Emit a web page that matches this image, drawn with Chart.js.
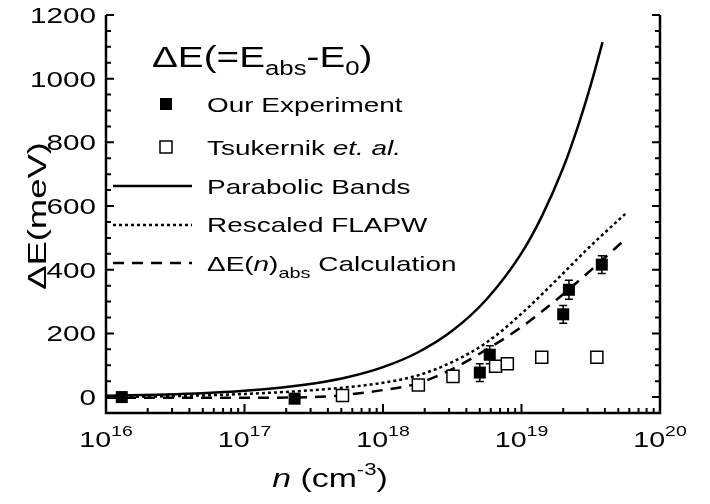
<!DOCTYPE html>
<html>
<head>
<meta charset="utf-8">
<script src="https://cdn.jsdelivr.net/npm/chart.js@4.4.1/dist/chart.umd.min.js"></script>
<style>
  body { margin: 0; background: #fff; }
  canvas { display: block; }
</style>
</head>
<body>
<canvas id="grafico" width="710" height="504"></canvas>
<script>
// datos
var expN = [1.3e16, 2.3e17, 5.0e18, 5.9e18, 2.0e19, 2.2e19, 3.8e19];
var expE = [0, -5, 77, 133, 260, 337, 416];
var expErr = [0, 0, 28, 28, 28, 30, 28];

var tsuN = [5.1e17, 1.8e18, 3.2e18, 6.5e18, 7.9e18, 1.4e19, 3.5e19];
var tsuE = [5, 38, 65, 97, 105, 125, 125];

var parN = [1e16, 3.16e16, 1e17, 3.16e17, 5.62e17, 1e18, 1.78e18, 3.16e18, 5.62e18, 1e19, 1.41e19, 2e19, 2.51e19, 3.16e19, 3.85e19];
var parE = [4, 9, 20, 43, 63, 94, 140, 208, 308, 452, 570, 720, 840, 980, 1115];

var flaN = [1e16, 3.16e16, 1e17, 3.16e17, 1e18, 1.78e18, 3.16e18, 5.62e18, 1e19, 1.78e19, 3.16e19, 5.8e19];
var flaE = [0, 3, 10, 22, 45, 68, 110, 172, 262, 367, 475, 581];

var dashN = [1e16, 1e17, 3.16e17, 5.62e17, 1e18, 1.78e18, 3.16e18, 5.62e18, 1e19, 1.78e19, 3.16e19, 5.75e19];
var dashE = [-2, -2, 0, 8, 22, 43, 88, 150, 220, 305, 398, 500];

var yTicks = [0, 200, 400, 600, 800, 1000, 1200];
var xExps = [16, 17, 18, 19, 20];

var FONT = '"Liberation Sans", Arial, sans-serif';

function puntos(xs, ys) {
  return xs.map(function (x, i) { return { x: x, y: ys[i] }; });
}

// texto con partes (sub/superindices) y estirado horizontal
function texto(ctx, partes, x, y, align, sx, rot) {
  var total = 0;
  partes.forEach(function (p) {
    ctx.font = (p[3] ? 'italic ' : '') + p[1] + 'px ' + FONT;
    p.w = ctx.measureText(p[0]).width;
    total += p.w;
  });
  var ini = 0;
  if (align === 'center') ini = -total / 2;
  if (align === 'right') ini = -total;
  ctx.save();
  ctx.translate(x, y);
  if (rot) ctx.rotate(rot);
  ctx.scale(sx, 1);
  ctx.fillStyle = '#000';
  ctx.textBaseline = 'alphabetic';
  ctx.textAlign = 'left';
  var cx = ini;
  partes.forEach(function (p) {
    ctx.font = (p[3] ? 'italic ' : '') + p[1] + 'px ' + FONT;
    ctx.fillText(p[0], cx, p[2]);
    cx += p.w;
  });
  ctx.restore();
}

var barrasError = {
  id: 'barrasError',
  beforeDatasetsDraw: function (chart) {
    var ctx = chart.ctx, xs = chart.scales.x, ys = chart.scales.y;
    ctx.save();
    ctx.strokeStyle = '#000';
    ctx.lineWidth = 1.5;
    expN.forEach(function (n, i) {
      if (!expErr[i]) return;
      var px = xs.getPixelForValue(n);
      var y1 = ys.getPixelForValue(expE[i] + expErr[i]);
      var y2 = ys.getPixelForValue(expE[i] - expErr[i]);
      ctx.beginPath();
      ctx.moveTo(px, y1); ctx.lineTo(px, y2);
      ctx.moveTo(px - 4, y1); ctx.lineTo(px + 4, y1);
      ctx.moveTo(px - 4, y2); ctx.lineTo(px + 4, y2);
      ctx.stroke();
    });
    ctx.restore();
  }
};

var marco = {
  id: 'marco',
  afterDraw: function (chart) {
    var ctx = chart.ctx, a = chart.chartArea;
    var xs = chart.scales.x, ys = chart.scales.y;
    ctx.save();
    ctx.strokeStyle = '#000';
    ctx.lineWidth = 2.5;
    ctx.beginPath();
    ctx.moveTo(a.left, a.top); ctx.lineTo(a.left, a.bottom);
    ctx.lineTo(a.right, a.bottom); ctx.lineTo(a.right, a.top);
    ctx.stroke();

    ctx.lineWidth = 2;
    ctx.beginPath();
    // marcas eje y (hacia dentro)
    for (var v = 0; v <= 1200; v += 50) {
      var py = ys.getPixelForValue(v);
      var L = (v % 200 === 0) ? 8 : 5;
      ctx.moveTo(a.left, py); ctx.lineTo(a.left + L, py);
      ctx.moveTo(a.right, py); ctx.lineTo(a.right - L, py);
    }
    // marcas eje x
    for (var e = 16; e < 20; e++) {
      for (var m = 1; m <= 9; m++) {
        var px = xs.getPixelForValue(m * Math.pow(10, e));
        var Lx = (m === 1) ? 9 : 5;
        ctx.moveTo(px, a.bottom); ctx.lineTo(px, a.bottom - Lx);
      }
    }
    ctx.stroke();

    // leyenda: muestras
    var lx1 = 113, lx2 = 192;
    ctx.lineWidth = 2.5;
    [[186, []], [225, [3, 3]], [263, [11, 8]]].forEach(function (s) {
      ctx.setLineDash(s[1]);
      ctx.beginPath();
      ctx.moveTo(lx1, s[0]); ctx.lineTo(lx2, s[0]);
      ctx.stroke();
    });
    ctx.setLineDash([]);
    ctx.fillStyle = '#000';
    ctx.fillRect(160, 98, 12, 12);
    ctx.lineWidth = 1.5;
    ctx.strokeRect(160, 141, 12, 12);
    ctx.restore();

    // etiquetas de ejes
    yTicks.forEach(function (v) {
      texto(ctx, [[String(v), 22, 0]], 96, ys.getPixelForValue(v) + 8, 'right', 1.35);
    });
    xExps.forEach(function (e) {
      texto(ctx, [['10', 22, 0], [String(e), 15, -11]], xs.getPixelForValue(Math.pow(10, e)), 447, 'center', 1.3);
    });

    texto(ctx, [['n', 26, 0, true], [' (cm', 26, 0], ['-3', 17, -12], [')', 26, 0]], 330, 487, 'center', 1.3);
    texto(ctx, [['\u0394E(meV)', 26, 0]], 46, 216, 'center', 1.4, -Math.PI / 2);

    // leyenda: textos
    texto(ctx, [['\u0394E(=E', 30, 0], ['abs', 20, 8], ['-E', 30, 0], ['0', 20, 8], [')', 30, 0]], 152, 67, 'left', 1.29);
    texto(ctx, [['Our Experiment', 21, 0]], 207, 112, 'left', 1.33);
    texto(ctx, [['Tsukernik ', 21, 0], ['et. al.', 21, 0, true]], 207, 155, 'left', 1.33);
    texto(ctx, [['Parabolic Bands', 21, 0]], 207, 194, 'left', 1.33);
    texto(ctx, [['Rescaled FLAPW', 21, 0]], 207, 232, 'left', 1.33);
    texto(ctx, [['\u0394E(', 21, 0], ['n', 21, 0, true], [')', 21, 0], ['abs', 15, 7], [' Calculation', 21, 0]], 207, 271, 'left', 1.33);
  }
};

var lineaBase = {
  showLine: true,
  pointRadius: 0,
  borderColor: '#000',
  borderWidth: 2.5,
  fill: false,
  cubicInterpolationMode: 'monotone'
};

var ctx = document.getElementById('grafico').getContext('2d');
var config = {
  type: 'scatter',
  data: {
    datasets: [
      {
        label: 'Our Experiment',
        data: puntos(expN, expE),
        pointStyle: 'rect',
        pointRadius: 8.5,
        backgroundColor: '#000',
        borderColor: '#000',
        borderWidth: 0,
        order: 0
      },
      {
        label: 'Tsukernik et. al.',
        data: puntos(tsuN, tsuE),
        pointStyle: 'rect',
        pointRadius: 8.5,
        backgroundColor: '#fff',
        borderColor: '#000',
        borderWidth: 1.5,
        order: 1
      },
      Object.assign({ label: 'Parabolic Bands', data: puntos(parN, parE), order: 2 }, lineaBase),
      Object.assign({ label: 'Rescaled FLAPW', data: puntos(flaN, flaE), borderDash: [3, 3], order: 3 }, lineaBase),
      Object.assign({ label: 'Calculation', data: puntos(dashN, dashE), borderDash: [11, 8], order: 4 }, lineaBase)
    ]
  },
  options: {
    responsive: false,
    animation: false,
    layout: { padding: { left: 106, right: 50, top: 15, bottom: 91 } },
    plugins: { legend: { display: false }, tooltip: { enabled: false } },
    scales: {
      x: { type: 'logarithmic', min: 1e16, max: 1e20, display: false },
      y: { type: 'linear', min: -50, max: 1200, display: false }
    }
  },
  plugins: [barrasError, marco]
};
var grafico = new Chart(ctx, config);
</script>
</body>
</html>
